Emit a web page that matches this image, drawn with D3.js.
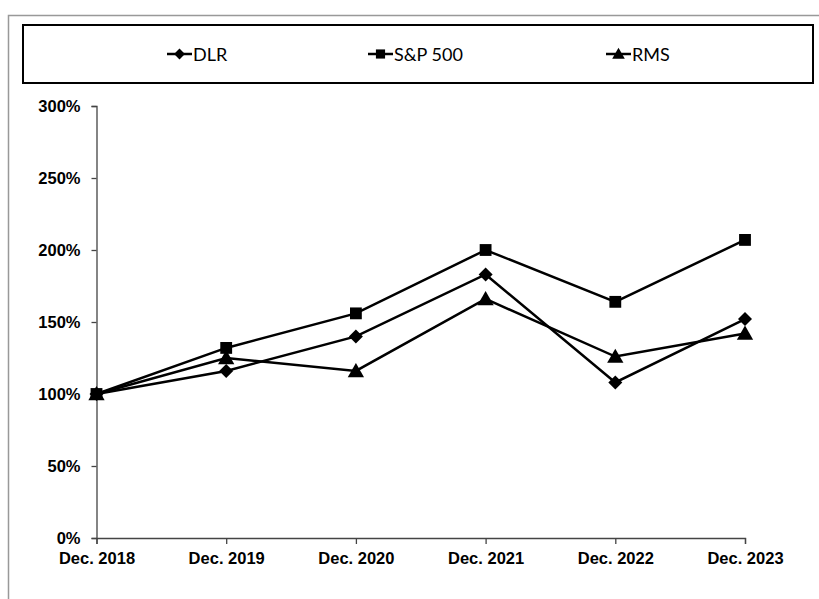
<!DOCTYPE html>
<html>
<head>
<meta charset="utf-8">
<script src="https://cdn.jsdelivr.net/npm/d3@7"></script>
<style>
  body { margin: 0; background: #fff; }
  svg { display: block; }
  .tick text { font-family: "Liberation Sans", Arial, sans-serif; font-weight: bold; font-size: 16.5px; fill: #000; }
  .legend text { font-family: Lato, "Open Sans", sans-serif; font-size: 18px; fill: #000; }
</style>
</head>
<body>
<svg class="chart" width="819" height="599"></svg>
<script>
// values, percent of Dec. 2018
let years = ["Dec. 2018", "Dec. 2019", "Dec. 2020", "Dec. 2021", "Dec. 2022", "Dec. 2023"];
let dlr = [100, 116, 140, 183, 108, 152];
let sp500 = [100, 132, 156, 200, 164, 207];
let rms = [100, 125, 116, 166, 126, 142];
let yTicks = [0, 50, 100, 150, 200, 250, 300];

// diamond drawn as a rotated square so it is as wide as it is tall
let diamond = {
  draw: function(context, size) {
    let r = Math.sqrt(size / 2);
    context.moveTo(0, -r);
    context.lineTo(r, 0);
    context.lineTo(0, r);
    context.lineTo(-r, 0);
    context.closePath();
  }
};

let seriesList = [
  {name: "DLR", values: dlr, symbol: diamond, size: 98, dy: 0},
  {name: "S&P 500", values: sp500, symbol: d3.symbolSquare, size: 140, dy: 0},
  {name: "RMS", values: rms, symbol: d3.symbolTriangle, size: 115, dy: 1.5}
];

let svg = d3.select("body").select(".chart");
let margin = {top: 106, right: 74, bottom: 61, left: 96.5};
let plotWidth = 819 - margin.left - margin.right;
let plotHeight = 599 - margin.top - margin.bottom;

// outer grey frame
svg.append("path")
  .attr("d", "M8.5,599 L8.5,15.5 L819,15.5")
  .attr("fill", "none")
  .attr("stroke", "#999")
  .attr("stroke-width", 1.5);

// legend box
let legend = svg.append("g").attr("class", "legend");
legend.append("rect")
  .attr("x", 23).attr("y", 25)
  .attr("width", 790).attr("height", 58)
  .attr("fill", "#fff")
  .attr("stroke", "#000")
  .attr("stroke-width", 2);

let legendX = [167, 368, 606];
seriesList.forEach(function(s, i) {
  let g = legend.append("g").attr("transform", translate(legendX[i], 54));
  g.append("line").attr("x1", 0).attr("x2", 25).attr("y1", 0).attr("y2", 0)
    .attr("stroke", "#000").attr("stroke-width", 2.5);
  g.append("path").attr("d", d3.symbol().type(s.symbol).size(s.size * 0.6)())
    .attr("transform", translate(12.5, s.dy * 0.7))
    .attr("fill", "#000");
  g.append("text").attr("x", 26).attr("y", 1).attr("dy", "0.35em").text(s.name);
});

let xScale = d3.scalePoint()
  .domain(years)
  .range([0, plotWidth]);
let yScale = d3.scaleLinear()
  .domain([0, 300])
  .range([plotHeight, 0]);

let plot = svg.append("g").attr("id", "plot")
  .attr("transform", translate(margin.left, margin.top));

let xAxis = d3.axisBottom(xScale).tickSizeOuter(0).tickSize(6).tickPadding(8);
let yAxis = d3.axisLeft(yScale).tickValues(yTicks).tickSizeOuter(0).tickSize(5).tickPadding(11)
  .tickFormat(d => d + "%");

let xGroup = plot.append("g").attr("id", "x-axis")
  .attr("transform", translate(0, plotHeight))
  .call(xAxis);
let yGroup = plot.append("g").attr("id", "y-axis").call(yAxis);
plot.selectAll(".domain").attr("stroke", "#444").attr("stroke-width", 1.3);
plot.selectAll(".tick line").attr("stroke", "#444").attr("stroke-width", 1.3);

let line = d3.line()
  .x((d, i) => xScale(years[i]))
  .y(d => yScale(d));

seriesList.forEach(function(s) {
  plot.append("path")
    .datum(s.values)
    .attr("d", line)
    .attr("fill", "none")
    .attr("stroke", "#000")
    .attr("stroke-width", 2.5);
});
seriesList.forEach(function(s) {
  plot.selectAll(null)
    .data(s.values)
    .enter().append("path")
    .attr("d", d3.symbol().type(s.symbol).size(s.size))
    .attr("transform", (d, i) => translate(xScale(years[i]), yScale(d) + s.dy))
    .attr("fill", "#000");
});

function translate(x, y) {
  return 'translate(' + x + ',' + y + ')';
}
</script>
</body>
</html>
